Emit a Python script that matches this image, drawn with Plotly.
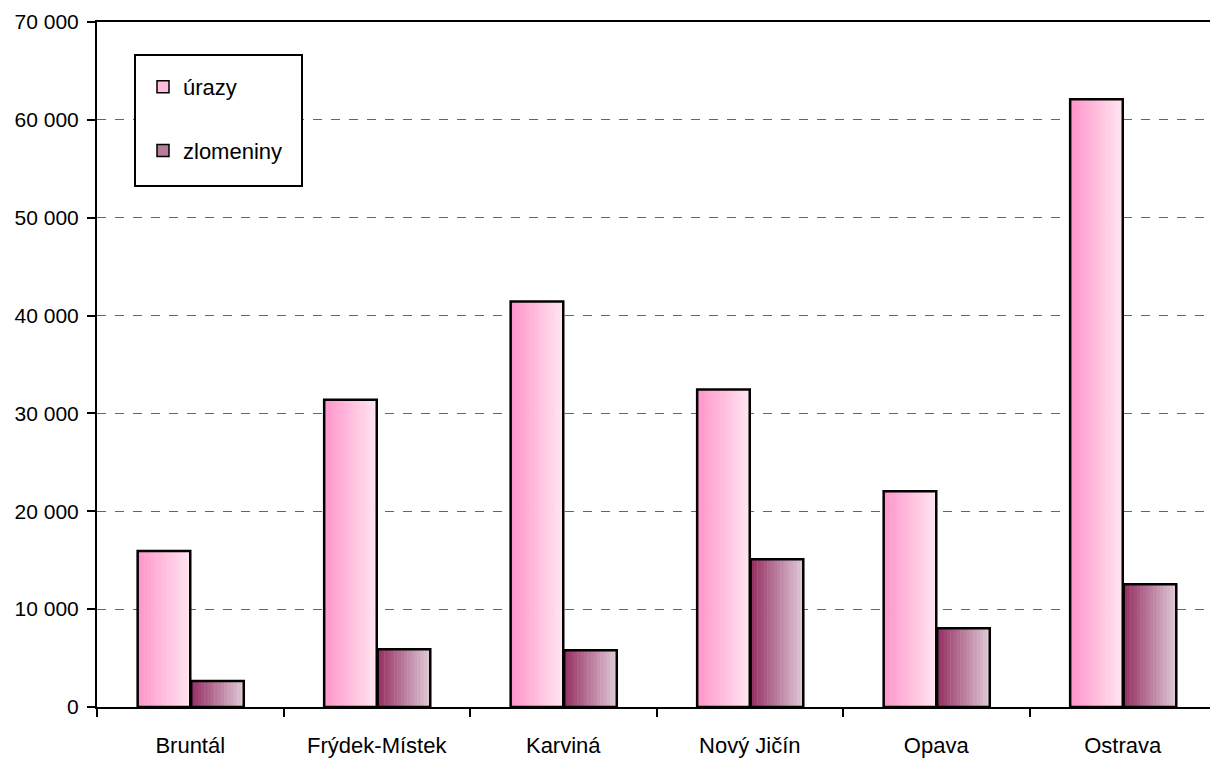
import plotly.graph_objects as go

categories = ["Bruntál", "Frýdek-Místek", "Karviná", "Nový Jičín", "Opava", "Ostrava"]
urazy = [15950, 31400, 41450, 32450, 22050, 62100]
zlomeniny = [2650, 5900, 5800, 15100, 8050, 12550]
y_tickvals = [0, 10000, 20000, 30000, 40000, 50000, 60000, 70000]
y_ticktext = ["0", "10 000", "20 000", "30 000", "40 000", "50 000", "60 000", "70 000"]

series = [
    ("úrazy", urazy, -0.282, (255, 150, 202), (255, 228, 240)),
    ("zlomeniny", zlomeniny, 0.005, (150, 50, 100), (222, 198, 212)),
]
W = 0.282
N = 16

fig = go.Figure()
for name, vals, off0, c0, c1 in series:
    for i in range(N):
        t = i / (N - 1)
        col = tuple(round(c0[k] + (c1[k] - c0[k]) * t) for k in range(3))
        fig.add_trace(go.Bar(
            x=categories, y=vals,
            offset=off0 + i * W / N, width=W / N * 1.15,
            marker=dict(color="rgb(%d,%d,%d)" % col, line=dict(width=0)),
            showlegend=False, hoverinfo="skip",
        ))
for name, vals, off0, c0, c1 in series:
    mid = tuple(round((c0[k] + c1[k]) / 2) for k in range(3))
    fig.add_trace(go.Bar(
        x=categories, y=vals, name=name, offset=off0, width=W,
        marker=dict(color="rgba(0,0,0,0)", line=dict(color="black", width=2.5)),
        showlegend=False,
    ))
    fig.add_trace(go.Bar(
        x=[categories[0]], y=[None], name=name, legendgroup=name,
        marker=dict(color="rgb(%d,%d,%d)" % mid, line=dict(color="black", width=1.5)),
        showlegend=True,
    ))

PW, PH = 1119, 685
fig.add_shape(type="rect", xref="paper", yref="paper",
              x0=(135 - 97) / PW, x1=(302 - 97) / PW,
              y0=(707 - 186) / PH, y1=(707 - 55) / PH,
              line=dict(color="black", width=2), fillcolor="white", layer="above")

FONT = "Liberation Sans, Arial, sans-serif"
fig.update_layout(
    width=1218, height=760,
    margin=dict(l=89, r=10, t=14, b=61),
    barmode="overlay",
    plot_bgcolor="white", paper_bgcolor="white",
    font=dict(family=FONT, size=22, color="black"),
    legend=dict(
        x=46 / PW, y=(707 - 66) / PH, xanchor="left", yanchor="top",
        borderwidth=0, bgcolor="rgba(0,0,0,0)",
        tracegroupgap=32, font=dict(size=22),
        itemwidth=30,
    ),
    xaxis=dict(
        range=[-0.5, 5.5], showline=True, linecolor="black", linewidth=2, mirror=True,
        ticks="outside", ticklen=8, tickwidth=2, tickcolor="black", tickson="boundaries",
        showgrid=False, ticklabelstandoff=18, automargin=False,
    ),
    yaxis=dict(
        range=[0, 70000], showline=True, linecolor="black", linewidth=2, mirror=True,
        ticks="outside", ticklen=8, tickwidth=2, tickcolor="black",
        tickvals=y_tickvals, ticktext=y_ticktext, tickfont=dict(size=21),
        showgrid=True, gridcolor="#666666", gridwidth=1, griddash="dash",
        zeroline=False, ticklabelstandoff=4, automargin=False,
    ),
)

fig.write_html("out.html")
